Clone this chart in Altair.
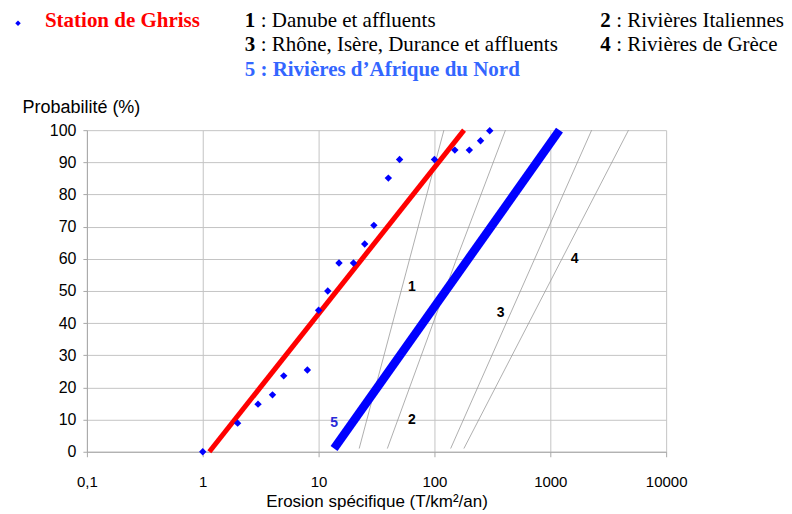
import altair as alt
import pandas as pd

# ---- data ----
# Station de Ghriss observations
erosion = [1, 2, 3, 4, 5, 8, 10, 12, 15, 20, 25, 30, 40, 50, 100, 150, 200, 250, 300]
probabilite = [0, 8.9, 14.8, 17.7, 23.6, 25.4, 44.0, 50.0, 58.7, 58.7, 64.6, 70.4,
               85.1, 90.9, 90.9, 93.8, 93.8, 96.7, 99.8]

# fitted line of the Ghriss station (red)
ghriss_x = [1.14, 180]
ghriss_y = [0, 100]

# 5 : Rivières d'Afrique du Nord (thick blue)
afrique_x = [13.6, 1200]
afrique_y = [1, 100]

# reference curves 1-4 (thin grey)
curve_names = ["1", "2", "3", "4"]
curve_x = [[22.4, 120.7], [39.2, 152, 410], [138, 2274], [179.5, 4732]]
curve_y = [[1, 100], [1, 59.1, 100], [1, 100], [1, 100]]

# in-plot labels
label_text = ["1", "2", "3", "4", "5"]
label_x = [64, 64, 372, 1622, 13.6]
label_y = [51.2, 9.9, 43, 60, 9.0]
label_color = ["#000000", "#000000", "#000000", "#000000", "#2a2ad8"]

x_ticks = [0.1, 1, 10, 100, 1000, 10000]
y_ticks = list(range(0, 101, 10))

# header legend texts
legend_station = "Station de Ghriss"
legend_nums = ["1", "2", "3", "4"]
legend_names = [": Danube et affluents", ": Rivières Italiennes",
                ": Rhône, Isère, Durance et affluents", ": Rivières de Grèce"]
legend_five = "5 : Rivières d\u2019Afrique du Nord"

# ---- tables ----
pts = pd.DataFrame({"x": erosion, "y": probabilite})
red = pd.DataFrame({"x": ghriss_x, "y": ghriss_y})
blue = pd.DataFrame({"x": afrique_x, "y": afrique_y})
rows = []
for n, xs, ys in zip(curve_names, curve_x, curve_y):
    for i, (a, b) in enumerate(zip(xs, ys)):
        rows.append({"name": n, "x": a, "y": b, "o": i})
curves = pd.DataFrame(rows)
labels = pd.DataFrame({"t": label_text, "x": label_x, "y": label_y, "c": label_color})
one = pd.DataFrame({"a": [0]})

PL, PT = 87, 130          # page position of the plot's top-left corner
W, H = 580, 322

x_enc = alt.X(
    "x:Q",
    scale=alt.Scale(type="log", domain=[0.1, 10000], nice=False),
    axis=alt.Axis(
        values=x_ticks,
        labelExpr="datum.value < 0.5 ? '0,1' : format(datum.value, 'd')",
        title="Erosion spécifique (T/km²/an)",
        titleY=50, titleBaseline="middle", titleFontSize=17,
        labelPadding=18, tickSize=5, labelFlush=False, labelOverlap=False,
        labelFontSize=15,
    ),
)
y_enc = alt.Y(
    "y:Q",
    scale=alt.Scale(domain=[0, 100], nice=False),
    axis=alt.Axis(
        values=y_ticks,
        title="Probabilité (%)",
        titleAngle=0, titleAlign="left", titleBaseline="middle",
        titleX=22 - PL, titleY=-23,
        labelPadding=7, tickSize=4, labelFlush=False,
    ),
)

grey = alt.Chart(curves).mark_line(color="#9a9a9a", strokeWidth=0.8).encode(
    x=x_enc, y=y_enc, detail="name:N", order="o:Q")
red_line = alt.Chart(red).mark_line(color="#ff0000", strokeWidth=5).encode(x=x_enc, y=y_enc)
blue_line = alt.Chart(blue).mark_line(color="#0000ff", strokeWidth=8.5).encode(x=x_enc, y=y_enc)
points = alt.Chart(pts).mark_point(shape="diamond", filled=True, size=55, color="#0000ff",
                                   opacity=1).encode(x=x_enc, y=y_enc)
lab = alt.Chart(labels).mark_text(fontSize=14, fontWeight="bold", font="Liberation Sans").encode(
    x=x_enc, y=y_enc, text="t:N", color=alt.Color("c:N", scale=None))

# header legend (page positions converted to plot-relative)
def htext(txt, px, py, bold=False, color="#000000"):
    return alt.Chart(one).mark_text(
        align="left", baseline="middle", font="Liberation Serif", fontSize=21,
        fontWeight="bold" if bold else "normal", color=color,
    ).encode(x=alt.value(px - PL), y=alt.value(py - PT), text=alt.value(txt))

header = [
    alt.Chart(one).mark_point(shape="diamond", filled=True, size=30, color="#0000ff",
                              opacity=1).encode(x=alt.value(18 - PL), y=alt.value(23 - PT)),
    htext(legend_station, 45, 21, True, "#ff0000"),
    htext(legend_nums[0], 245, 21, True), htext(legend_names[0], 261, 21),
    htext(legend_nums[1], 601, 21, True), htext(legend_names[1], 617, 21),
    htext(legend_nums[2], 245, 45, True), htext(legend_names[2], 261, 45),
    htext(legend_nums[3], 601, 45, True), htext(legend_names[3], 617, 45),
    htext(legend_five, 245, 70, True, "#3366ff"),
]

chart = alt.layer(grey, red_line, blue_line, points, lab, *header).properties(
    width=W, height=H,
    autosize=alt.AutoSizeParams(type="none"),
    padding={"left": PL - 8, "top": PT - 8, "right": 118, "bottom": 64},
    background="white",
).configure_view(strokeWidth=0).configure_axis(
    grid=True, gridColor="#c4c4c4", gridWidth=1,
    domainColor="#a8a8a8", tickColor="#a8a8a8",
    labelFont="Liberation Sans", labelFontSize=16, labelColor="#000000",
    titleFont="Liberation Sans", titleFontSize=18, titleFontWeight="normal", titleColor="#000000",
)

chart.save("out.html", embed_options={"renderer": "svg", "actions": False})
